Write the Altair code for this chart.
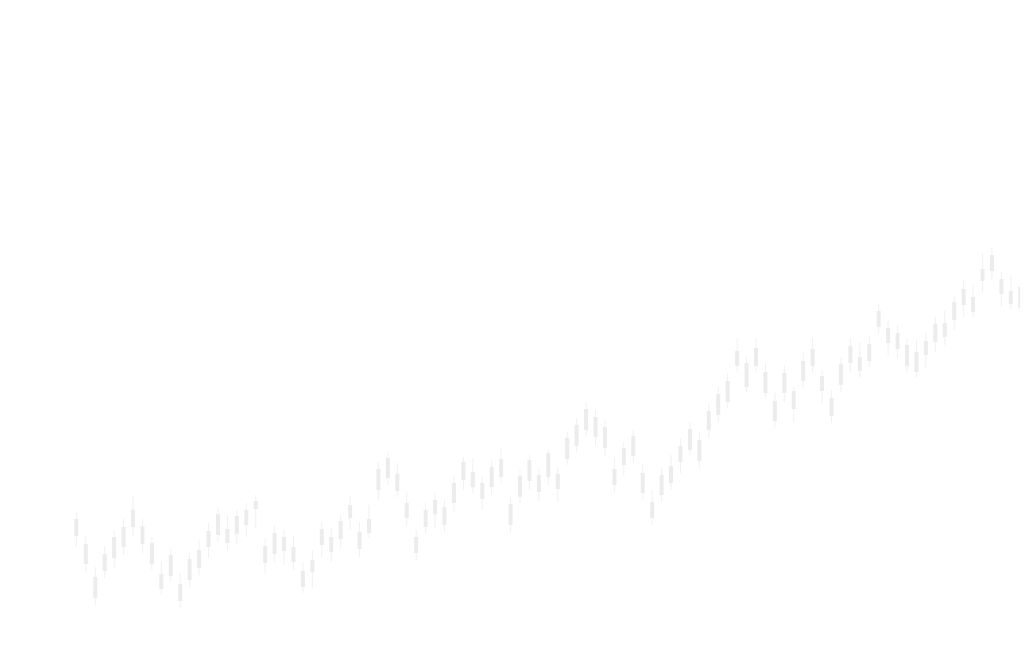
import altair as alt
import pandas as pd

day = list(range(101))

high = [148,123,93,114,130,141,163,141,123,99,
        112,87,107,120,137,153,145,150,157,165,
        122,135,130,125,98,110,138,133,145,165,
        138,155,198,208,197,168,130,157,167,160,
        185,203,202,183,200,212,163,190,205,192,
        210,193,228,242,258,250,240,203,218,230,
        195,170,192,205,222,238,227,257,273,287,
        322,303,322,297,267,295,273,307,322,290,
        270,303,322,318,323,355,339,335,322,320,
        327,343,350,365,380,375,407,412,388,385,
        380]
low = [113,88,55,82,92,105,125,107,90,65,
       78,52,73,85,102,118,110,115,123,132,
       87,98,95,90,67,72,103,98,112,130,
       103,122,160,175,163,135,100,127,133,128,
       148,170,167,150,165,177,128,157,170,158,
       175,158,195,208,223,215,205,168,185,197,
       160,135,158,170,187,204,192,222,238,252,
       288,268,288,262,232,258,238,272,287,257,
       237,268,288,282,293,327,305,302,287,282,
       292,308,315,330,343,342,368,380,353,350,
       347]
open_ = [124,116,83,89,102,113,133,134,117,86,
         84,76,80,92,113,125,131,126,135,151,
         114,106,123,113,89,88,115,123,121,142,
         128,127,170,182,186,157,123,133,146,153,
         157,180,188,177,173,183,156,163,179,185,
         183,186,201,214,230,243,233,191,195,204,
         187,158,165,177,198,210,220,230,245,258,
         294,297,294,288,259,267,269,279,294,284,
         262,275,297,303,299,333,332,327,315,308,
         305,318,323,340,355,363,379,389,381,369,
         373]
close = [141,96,62,106,123,133,150,116,96,71,
         105,59,101,110,129,146,117,144,150,159,
         97,127,109,98,73,100,131,108,139,155,
         111,141,191,202,169,142,107,150,160,135,
         177,198,173,161,193,201,135,184,200,168,
         207,171,222,235,251,223,212,175,212,224,
         167,142,185,194,214,231,199,249,266,279,
         309,273,312,267,239,287,251,299,311,269,
         244,296,314,289,316,349,317,311,294,288,
         319,336,337,358,371,348,391,405,366,356,
         352]

df = pd.DataFrame({"day": day, "high": high, "low": low, "open": open_, "close": close})

x = alt.X("day:Q", scale=alt.Scale(domain=[-6.7135, 99.44], nice=False, zero=False), axis=None)
yscale = alt.Scale(domain=[22, 652], nice=False, zero=False)

base = alt.Chart(df).encode(x=x)

wick = base.mark_rule(color="#f1f1f1", strokeWidth=1).encode(
    y=alt.Y("low:Q", scale=yscale, axis=None),
    y2="high:Q",
)
body = base.mark_bar(color="#ececec", size=4).encode(
    y=alt.Y("open:Q", scale=yscale, axis=None),
    y2="close:Q",
)

chart = (wick + body).properties(
    width=1012, height=630, autosize=alt.AutoSizeParams(type="none"), padding=0,
    background="#ffffff",
).configure_view(strokeWidth=0)

chart.save("out.html", embed_options={"renderer": "svg", "actions": False})
